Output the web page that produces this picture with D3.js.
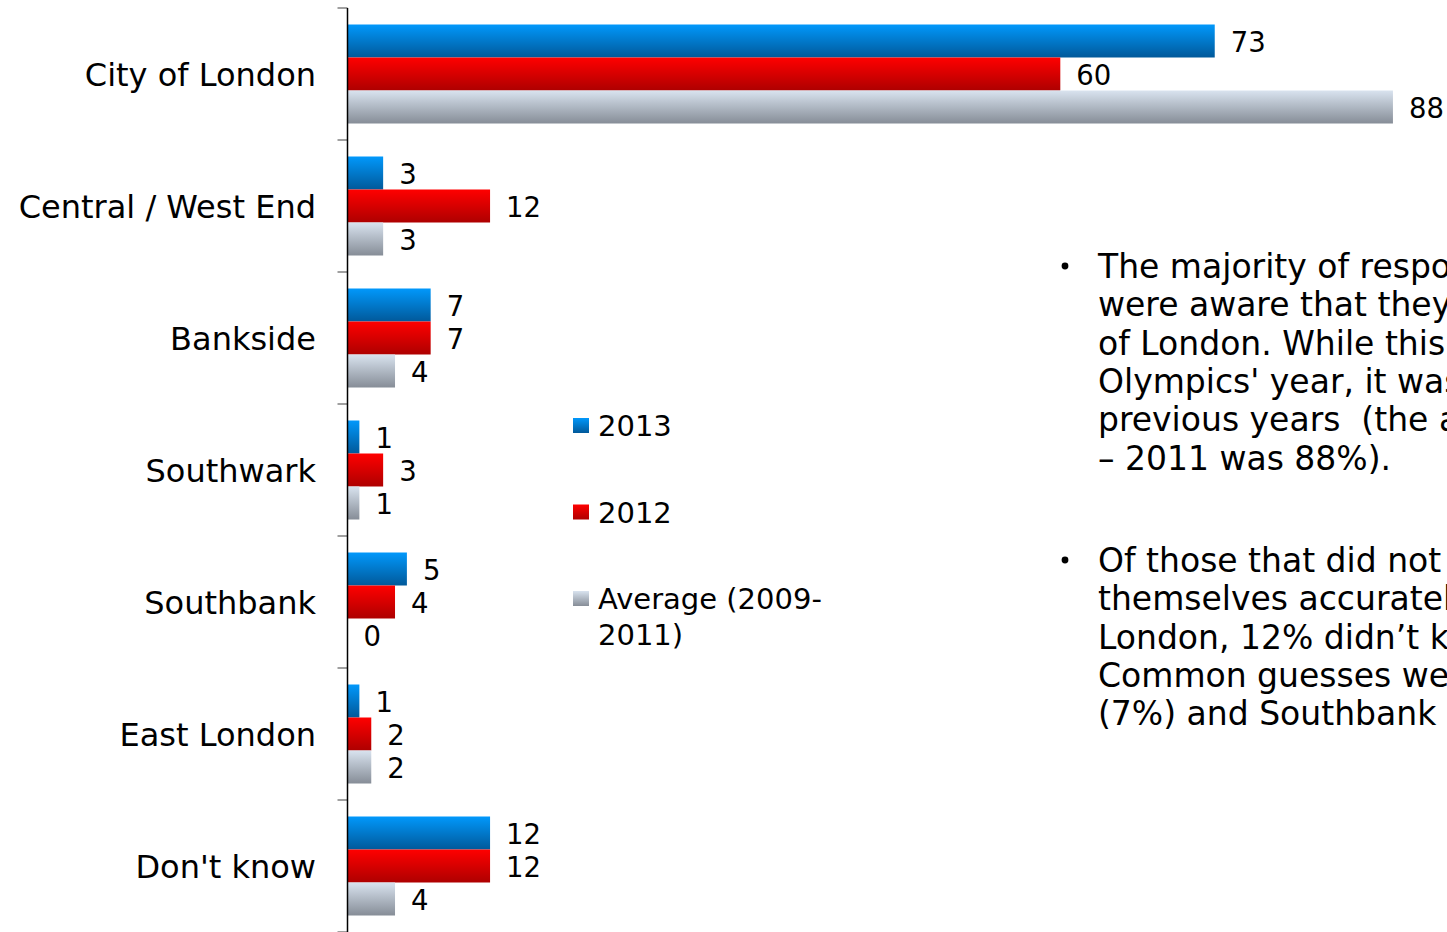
<!DOCTYPE html>
<html>
<head>
<meta charset="utf-8">
<script src="https://cdn.jsdelivr.net/npm/d3@7/dist/d3.min.js"></script>
<style>
  html, body { margin: 0; padding: 0; background: #ffffff; overflow: hidden; }
  svg { display: block; font-family: "DejaVu Sans", Verdana, sans-serif; }
  .note { white-space: pre; }
</style>
</head>
<body>
<svg id="chart" width="1447" height="932"></svg>
<script>
// Where visitors thought they were: share of respondents (%)
const categories = ["City of London", "Central / West End", "Bankside", "Southwark", "Southbank", "East London", "Don't know"];
const series = ["2013", "2012", "Average (2009-2011)"];
const values2013 = [73, 3, 7, 1, 5, 1, 12];
const values2012 = [60, 12, 7, 3, 4, 2, 12];
const valuesAvg = [88, 3, 4, 1, 0, 2, 4];
const legendLines = [["2013"], ["2012"], ["Average (2009-", "2011)"]];
const bulletParagraphs = [
  ["The majority of respondents (73%)",
   "were aware that they were in the City",
   "of London. While this was lower than the",
   "Olympics' year, it was also lower than",
   "previous years  (the average for 2009",
   "\u2013 2011 was 88%)."],
  ["Of those that did not place",
   "themselves accurately in the City of",
   "London, 12% didn\u2019t know where they were.",
   "Common guesses were Bankside",
   "(7%) and Southbank (5%)."]
];

const seriesValues = [values2013, values2012, valuesAvg];
const rows = categories.map((c, i) => ({
  category: c,
  bars: series.map((s, j) => ({ series: s, value: seriesValues[j][i] }))
}));

const svg = d3.select("#chart");
const defs = svg.append("defs");

// vertical gradients for the glossy bar fills
const gradients = [
  { id: "g2013", top: "#0198fb", bottom: "#01599a" },
  { id: "g2012", top: "#ff0000", bottom: "#ae0000" },
  { id: "gAvg", top: "#d9e3ef", bottom: "#868d97" }
];
gradients.forEach(g => {
  const lg = defs.append("linearGradient").attr("id", g.id)
    .attr("x1", 0).attr("y1", 0).attr("x2", 0).attr("y2", 1);
  lg.append("stop").attr("offset", "0%").attr("stop-color", g.top);
  lg.append("stop").attr("offset", "100%").attr("stop-color", g.bottom);
});
const fillFor = d3.scaleOrdinal().domain(series).range(gradients.map(g => `url(#${g.id})`));

const x0 = 347.5;
const x = d3.scaleLinear().domain([0, 100]).range([x0, x0 + 1188]);
const y = d3.scaleBand().domain(categories).range([8, 932])
  .paddingInner(0.25).paddingOuter(0.125);
const ySub = d3.scaleBand().domain(series).range([0, y.bandwidth()]);

// category tick marks sit between groups
const gap = (y.step() - y.bandwidth()) / 2;
const boundaries = categories.map(c => y(c) - gap).concat([y(categories[categories.length - 1]) + y.bandwidth() + gap]);
svg.append("g").selectAll("line").data(boundaries).join("line")
  .attr("x1", x0 - 10).attr("x2", x0)
  .attr("y1", d => d).attr("y2", d => d)
  .attr("stroke", "#808080").attr("stroke-width", 1.5);

// bars
const groups = svg.append("g").selectAll("g").data(rows).join("g")
  .attr("transform", d => `translate(0,${y(d.category)})`);

groups.selectAll("rect").data(d => d.bars).join("rect")
  .attr("x", x(0))
  .attr("y", d => ySub(d.series))
  .attr("width", d => x(d.value) - x(0))
  .attr("height", ySub.bandwidth())
  .attr("fill", d => fillFor(d.series));

groups.selectAll("text").data(d => d.bars).join("text")
  .attr("x", d => x(d.value) + 16)
  .attr("y", d => ySub(d.series) + ySub.bandwidth() / 2 + 1.5)
  .attr("dy", "0.36em")
  .attr("font-size", 27.5)
  .attr("fill", "#000")
  .text(d => d3.format("d")(d.value));

// category labels
svg.append("g").selectAll("text").data(categories).join("text")
  .attr("x", 316)
  .attr("y", d => y(d) + y.bandwidth() / 2)
  .attr("dy", "0.36em")
  .attr("text-anchor", "end")
  .attr("font-size", 32)
  .attr("fill", "#000")
  .text(d => d);

// vertical axis line
svg.append("line")
  .attr("x1", x0).attr("x2", x0).attr("y1", 8).attr("y2", 932)
  .attr("stroke", "#000").attr("stroke-width", 1.5);

// legend
const legend = svg.append("g").selectAll("g").data(series).join("g")
  .attr("transform", (d, i) => `translate(573,${418 + i * 86.5})`);
legend.append("rect")
  .attr("width", 16).attr("height", 15)
  .attr("fill", d => fillFor(d));
legend.append("text")
  .attr("x", 25).attr("y", 18)
  .attr("font-size", 29)
  .attr("fill", "#000")
  .selectAll("tspan").data((d, i) => legendLines[i]).join("tspan")
  .attr("x", 25).attr("dy", (d, i) => i === 0 ? 0 : 36)
  .text(d => d);

// commentary bullets
const lineH = 38.4;
const paraTop = [266, 560];
const notes = svg.append("g").selectAll("g").data(bulletParagraphs).join("g")
  .attr("transform", (d, i) => `translate(0,${paraTop[i]})`);
notes.append("circle").attr("cx", 1065).attr("cy", 0).attr("r", 3.4).attr("fill", "#000");
notes.append("text")
  .attr("class", "note")
  .attr("font-size", 33)
  .attr("fill", "#000")
  .selectAll("tspan").data(d => d).join("tspan")
  .attr("x", 1098)
  .attr("y", (d, i) => i * lineH)
  .attr("dy", "0.36em")
  .text(d => d);
</script>
</body>
</html>
